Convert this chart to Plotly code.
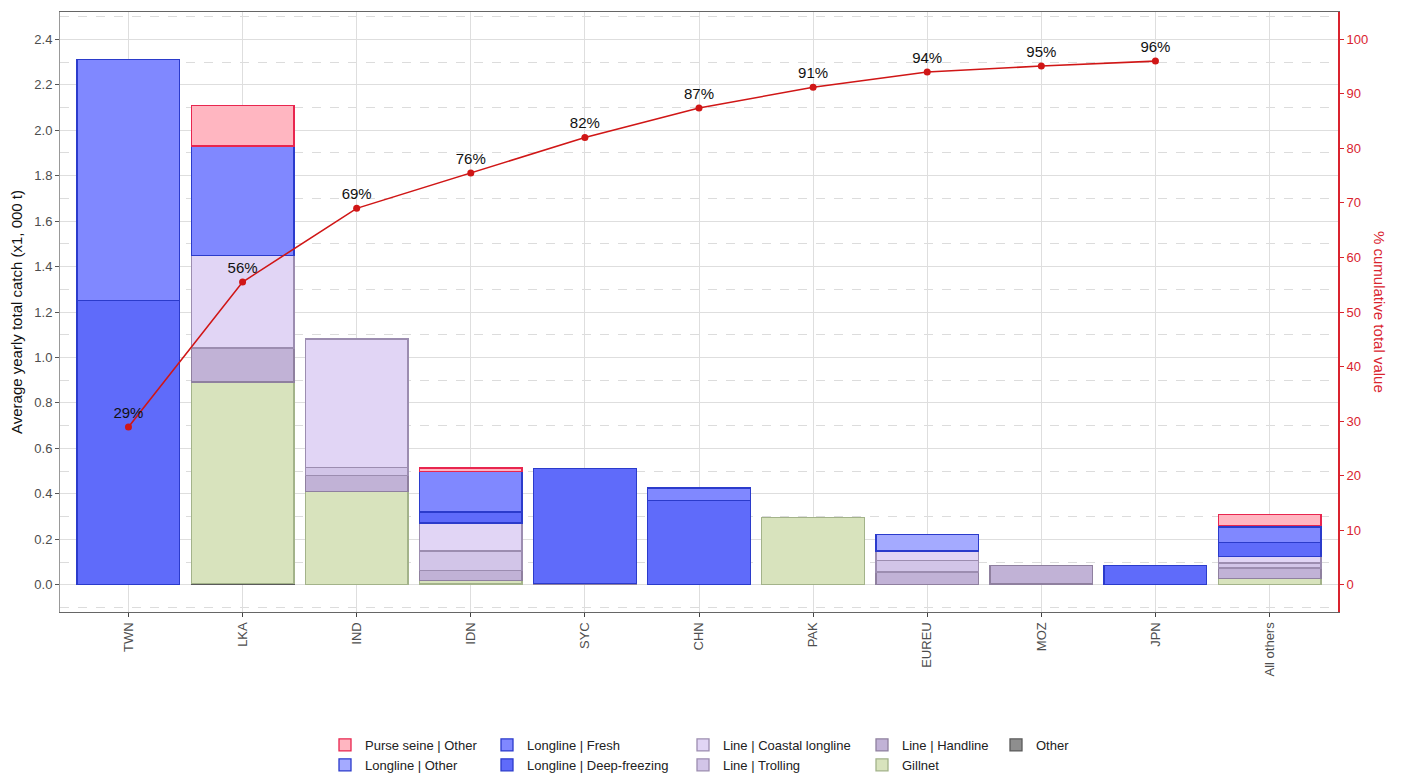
import plotly.graph_objects as go

categories = ["TWN", "LKA", "IND", "IDN", "SYC", "CHN", "PAK", "EUREU", "MOZ", "JPN", "All others"]

# stacked gear values (x1,000 t), bottom to top
other        = [0, 0.004, 0, 0.003, 0, 0, 0, 0, 0, 0, 0]
gillnet      = [0, 0.888, 0.41, 0.016, 0, 0, 0.295, 0, 0.003, 0, 0.026]
handline     = [0, 0.15, 0.07, 0.044, 0.005, 0, 0, 0.056, 0.082, 0, 0.047]
trolling     = [0, 0, 0.037, 0.086, 0, 0, 0, 0.051, 0, 0, 0.022]
coastal_ll   = [0, 0.408, 0.564, 0.122, 0, 0, 0, 0.042, 0, 0, 0.029]
deep_freeze  = [1.25, 0, 0, 0.049, 0.505, 0.37, 0, 0, 0, 0.085, 0.063]
fresh        = [1.06, 0.48, 0, 0.178, 0, 0.056, 0, 0, 0, 0, 0.067]
ll_other     = [0, 0, 0, 0, 0, 0, 0, 0.071, 0, 0, 0.006]
purse_other  = [0, 0.18, 0, 0.016, 0, 0, 0, 0, 0, 0, 0.048]

cum_categories = categories[:10]
cum_pct = [28.9, 55.5, 69.0, 75.5, 82.0, 87.4, 91.2, 94.0, 95.1, 96.0]
cum_labels = ["29%", "56%", "69%", "76%", "82%", "87%", "91%", "94%", "95%", "96%"]

series = [
    ("Other", other, "#8e8e8e", "#5a5a5a", "legend5"),
    ("Gillnet", gillnet, "#d8e3bd", "#a3b38a", "legend4"),
    ("Line | Handline", handline, "#c1b2d6", "#8f809f", "legend4"),
    ("Line | Trolling", trolling, "#d2c5e8", "#9c8db0", "legend3"),
    ("Line | Coastal longline", coastal_ll, "#e1d5f5", "#9c8db0", "legend3"),
    ("Longline | Deep-freezing", deep_freeze, "#5f6bfa", "#2b3bcb", "legend2"),
    ("Longline | Fresh", fresh, "#8088ff", "#2b3bcb", "legend2"),
    ("Longline | Other", ll_other, "#a4aaff", "#2b3bcb", "legend"),
    ("Purse seine | Other", purse_other, "#ffb6c1", "#e8264f", "legend"),
]

fig = go.Figure()
for name, vals, fill, line, lg in series:
    fig.add_trace(go.Bar(
        x=categories, y=[v if v else None for v in vals], name=name, legend=lg,
        marker=dict(color=fill, line=dict(color=line, width=1.3)),
    ))

fig.add_trace(go.Scatter(
    x=cum_categories, y=cum_pct, yaxis="y2", mode="lines+markers+text",
    text=cum_labels, textposition="top center",
    textfont=dict(size=15, color="#111111", family="Liberation Sans, Arial"),
    line=dict(color="#d01616", width=1.6),
    marker=dict(color="#d01616", size=7),
    showlegend=False,
))

L, R, T, B = 60, 65, 12, 161
W, H = 1403, 773
pw = W - L - R
ph = H - T - B

def px_x(p):
    return (p - L) / pw

def px_y(p):
    return (H - B - p) / ph

legend_common = dict(
    orientation="v", yanchor="top", xanchor="left", traceorder="reversed",
    font=dict(size=13, color="#222222", family="Liberation Sans, Arial"),
    bgcolor="rgba(0,0,0,0)", tracegroupgap=0, itemwidth=30,
)
legend_x = [325, 487, 683, 862, 996]
legend_keys = ["legend", "legend2", "legend3", "legend4", "legend5"]
legend_layout = {}
for k, xp in zip(legend_keys, legend_x):
    legend_layout[k] = dict(legend_common, x=px_x(xp), y=px_y(730))

fig.update_layout(
    width=W, height=H,
    margin=dict(l=L, r=R, t=T, b=B, autoexpand=False),
    barmode="stack", bargap=0.1,
    plot_bgcolor="white", paper_bgcolor="white",
    font=dict(family="Liberation Sans, Arial", size=13, color="#4d4d4d"),
    xaxis=dict(
        type="category", range=[-0.6, 10.6], tickangle=-90,
        showgrid=True, gridcolor="#dedede", gridwidth=1,
        showline=True, linecolor="#666666", linewidth=1.2, mirror=True,
        ticks="outside", ticklen=4, tickcolor="#444444",
        tickfont=dict(size=13, color="#4d4d4d"),
    ),
    yaxis=dict(
        range=[-0.12, 2.52], tickmode="array",
        tickvals=[0, 0.2, 0.4, 0.6, 0.8, 1.0, 1.2, 1.4, 1.6, 1.8, 2.0, 2.2, 2.4],
        tickformat=".1f",
        showgrid=True, gridcolor="#dedede", gridwidth=1, zeroline=False,
        minor=dict(dtick=0.1, tick0=0, showgrid=True, gridcolor="#dcdcdc",
                   griddash="dash", gridwidth=1, ticks=""),
        showline=True, linecolor="#999999", linewidth=1,
        ticks="outside", ticklen=4, tickcolor="#555555",
        tickfont=dict(size=13, color="#4d4d4d"),
        title=dict(text="Average yearly total catch (x1, 000 t)",
                   font=dict(size=15, color="#111111"), standoff=8),
    ),
    yaxis2=dict(
        overlaying="y", side="right", range=[-5, 105],
        tickmode="array", tickvals=list(range(0, 101, 10)),
        showgrid=False, zeroline=False,
        showline=True, linecolor="#d9232e", linewidth=2,
        ticks="outside", ticklen=4, tickcolor="#d9232e",
        tickfont=dict(size=13, color="#d9232e"),
    ),
    annotations=[dict(
        text="% cumulative total value", xref="paper", yref="paper",
        x=px_x(1380), y=0.5, showarrow=False, textangle=90,
        font=dict(size=15, color="#d9232e"), xanchor="center", yanchor="middle",
    )],
    **legend_layout,
)

fig.write_html(
    "out.html",
    config={"displayModeBar": False},
    post_script="document.body.style.margin='0px';document.body.style.overflow='hidden';",
)
